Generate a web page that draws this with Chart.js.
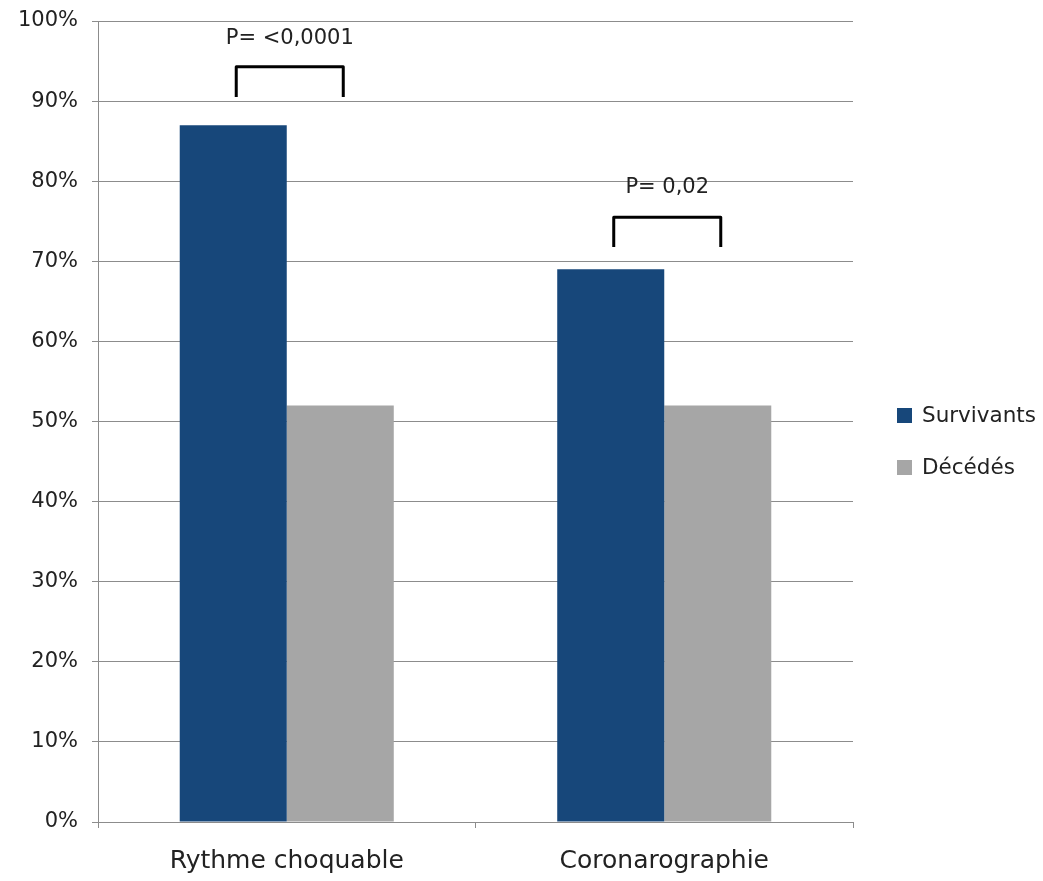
<!DOCTYPE html>
<html>
<head>
<meta charset="utf-8">
<script src="https://cdn.jsdelivr.net/npm/chart.js@4/dist/chart.umd.min.js"></script>
<style>
  body{margin:0;background:#fff;}
  #wrap{width:1043px;height:881px;}
</style>
</head>
<body>
<div id="wrap"><canvas id="chart" width="1043" height="881"></canvas></div>
<script>
const categories = ["Rythme choquable", "Coronarographie"];
const survivants = [87, 69];
const decedes = [52, 52];
const pLabels = ["P= <0,0001", "P= 0,02"];
const bracketTop = [94.3, 75.5];
const bracketBottom = [90.5, 71.8];
const pTextLevel = [97.8, 79.2];

const FONT = "'DejaVu Sans', sans-serif";

const annotations = {
  id: "brackets",
  afterDatasetsDraw(chart){
    const ctx = chart.ctx;
    const y = chart.scales.y;
    const m0 = chart.getDatasetMeta(0), m1 = chart.getDatasetMeta(1);
    ctx.save();
    categories.forEach((c, i) => {
      const x0 = m0.data[i].x + 3, x1 = m1.data[i].x + 3;
      const yt = y.getPixelForValue(bracketTop[i]);
      const yb = y.getPixelForValue(bracketBottom[i]);
      ctx.strokeStyle = "#000";
      ctx.lineWidth = 3;
      ctx.lineJoin = "round";
      ctx.beginPath();
      ctx.moveTo(x0, yb);
      ctx.lineTo(x0, yt);
      ctx.lineTo(x1, yt);
      ctx.lineTo(x1, yb);
      ctx.stroke();
      ctx.fillStyle = "#222";
      ctx.font = `21px ${FONT}`;
      ctx.textAlign = "center";
      ctx.textBaseline = "middle";
      ctx.fillText(pLabels[i], (x0 + x1) / 2, y.getPixelForValue(pTextLevel[i]));
    });
    // legend
    chart.data.datasets.forEach((d, i) => {
      const cy = 415 + i * 52;
      ctx.fillStyle = d.backgroundColor;
      ctx.fillRect(897, cy - 7, 15, 15);
      ctx.fillStyle = "#222";
      ctx.font = `21.5px ${FONT}`;
      ctx.textAlign = "left";
      ctx.textBaseline = "middle";
      ctx.fillText(d.label, 922, cy + 1);
    });
    ctx.restore();
  }
};

new Chart(document.getElementById("chart"), {
  type: "bar",
  data: {
    labels: categories,
    datasets: [
      {label: "Survivants", data: survivants, backgroundColor: "#17477a"},
      {label: "Décédés", data: decedes, backgroundColor: "#a6a6a6"}
    ]
  },
  options: {
    responsive: false,
    animation: false,
    layout: {padding: {top: 21, right: 190, bottom: 0, left: 0}},
    datasets: {bar: {barPercentage: 1, categoryPercentage: 0.567}},
    plugins: {legend: {display: false}, tooltip: {enabled: false}},
    scales: {
      y: {
        min: 0, max: 100,
        ticks: {stepSize: 10, callback: v => v + "%", color: "#222", font: {family: FONT, size: 21}, padding: 14},
        grid: {color: "#8c8c8c", lineWidth: 1, tickLength: 6},
        border: {color: "#8c8c8c"},
        afterFit: s => { s.width = 98; s.paddingTop = 0; s.paddingBottom = 0; }
      },
      x: {
        ticks: {color: "#222", font: {family: FONT, size: 25}, padding: 18},
        grid: {drawOnChartArea: false, color: "#8c8c8c", tickLength: 6, offset: true},
        border: {color: "#8c8c8c"},
        afterFit: s => { s.height = 59; s.paddingLeft = 0; s.paddingRight = 0; }
      }
    }
  },
  plugins: [annotations]
});
</script>
</body>
</html>
